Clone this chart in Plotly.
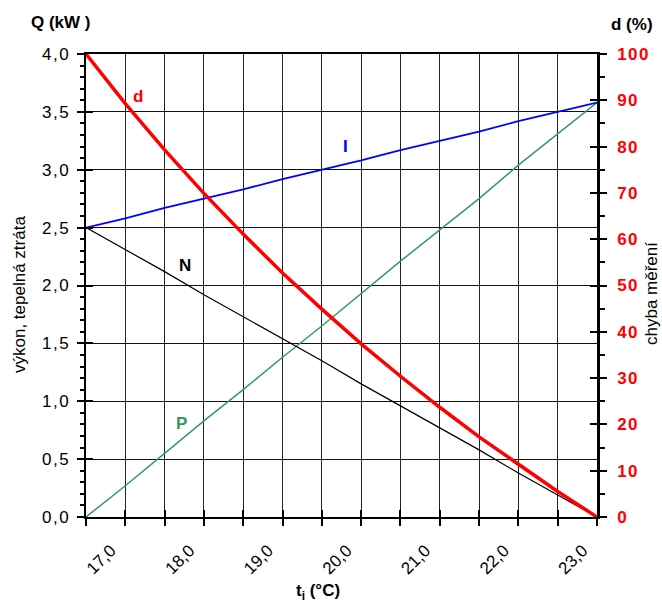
import plotly.graph_objects as go

# ---- data ----
t_i = [17.0, 17.5, 18.0, 18.5, 19.0, 19.5, 20.0, 20.5, 21.0, 21.5, 22.0, 22.5, 23.0, 23.5]
I_vals = [2.50, 2.58, 2.67, 2.75, 2.83, 2.92, 3.00, 3.08, 3.17, 3.25, 3.33, 3.42, 3.50, 3.58]
N_vals = [2.50, 2.31, 2.12, 1.92, 1.73, 1.54, 1.35, 1.15, 0.96, 0.77, 0.58, 0.38, 0.19, 0.00]
P_vals = [0.00, 0.27, 0.55, 0.83, 1.10, 1.38, 1.65, 1.93, 2.21, 2.48, 2.75, 3.04, 3.31, 3.58]
d_vals = [100.0, 89.3, 79.3, 69.9, 61.1, 52.7, 44.9, 37.4, 30.4, 23.7, 17.3, 11.3, 5.5, 0.0]

x_tick_labels = ["17,0", "", "18,0", "", "19,0", "", "20,0", "", "21,0", "", "22,0", "", "23,0", ""]
q_ticks = [0.0, 0.5, 1.0, 1.5, 2.0, 2.5, 3.0, 3.5, 4.0]
q_tick_labels = ["0,0", "0,5", "1,0", "1,5", "2,0", "2,5", "3,0", "3,5", "4,0"]
d_ticks = [0, 10, 20, 30, 40, 50, 60, 70, 80, 90, 100]
d_tick_labels = ["0", "10", "20", "30", "40", "50", "60", "70", "80", "90", "100"]

series_labels = [
    # text, x, y, color
    ("d", 17.66, 3.63, "#FF0000"),
    ("I", 20.30, 3.20, "#0000FF"),
    ("N", 18.26, 2.17, "#000000"),
    ("P", 18.21, 0.81, "#339966"),
]

FONT = "Liberation Sans, Arial, sans-serif"
HS = "\u200a"

def spaced(s):
    return HS.join(list(s))

fig = go.Figure()

fig.add_trace(go.Scatter(x=t_i, y=P_vals, mode="lines", line=dict(color="#339966", width=1.5),
                         showlegend=False, hoverinfo="skip"))
fig.add_trace(go.Scatter(x=t_i, y=N_vals, mode="lines", line=dict(color="#000000", width=1.2),
                         showlegend=False, hoverinfo="skip"))
fig.add_trace(go.Scatter(x=t_i, y=I_vals, mode="lines", line=dict(color="#0000FF", width=1.8),
                         showlegend=False, hoverinfo="skip"))
fig.add_trace(go.Scatter(x=t_i, y=d_vals, mode="lines", line=dict(color="#FF0000", width=3.5),
                         yaxis="y2", showlegend=False, hoverinfo="skip"))

# invisible helper traces for the inner halves of crossing ticks
fig.add_trace(go.Scatter(x=t_i[:1], y=q_ticks[:1], mode="lines", line=dict(width=0),
                         xaxis="x3", yaxis="y3", showlegend=False, hoverinfo="skip"))
fig.add_trace(go.Scatter(x=t_i[:1], y=d_ticks[:1], mode="lines", line=dict(width=0),
                         xaxis="x3", yaxis="y4", showlegend=False, hoverinfo="skip"))

L, R, T, B = 86, 65, 54, 88
W, H = 662, 605
pw = W - L - R
ph = H - T - B

def px_x(px):
    return (px - L) / pw

def px_y(py):
    return (H - B - py) / ph

fig.update_layout(
    width=W, height=H,
    margin=dict(l=L, r=R, t=T, b=B),
    paper_bgcolor="white", plot_bgcolor="white",
    font=dict(family=FONT, size=17, color="black"),
    xaxis=dict(
        range=[17, 23.5], tickmode="array", tickvals=t_i,
        ticktext=x_tick_labels,
        tickangle=-45, ticks="outside", ticklen=7, tickcolor="black", tickwidth=1.5,
        showgrid=True, gridcolor="#222222", gridwidth=1,
        showline=True, linecolor="black", linewidth=2, mirror=True,
        zeroline=False, ticklabelshift=25, ticklabelstandoff=8,
        tickfont=dict(size=17),
    ),
    xaxis3=dict(
        range=[17, 23.5], overlaying="x", anchor="y", tickmode="array", tickvals=t_i,
        ticks="inside", ticklen=7, tickcolor="black", tickwidth=1.5,
        showticklabels=False, showgrid=False, showline=False, zeroline=False,
    ),
    yaxis=dict(
        range=[0, 4], tickmode="array", tickvals=q_ticks,
        ticktext=[spaced(s) for s in q_tick_labels],
        ticks="outside", ticklen=7, tickcolor="black", tickwidth=1.5,
        minor=dict(dtick=0.1, ticks="outside", ticklen=4, tickcolor="black", tickwidth=1.5, showgrid=False),
        showgrid=True, gridcolor="#111111", gridwidth=1,
        showline=True, linecolor="black", linewidth=2,
        zeroline=False, tickfont=dict(size=17), ticklabelstandoff=5,
    ),
    yaxis3=dict(
        range=[0, 4], overlaying="y", side="left", anchor="x", tickmode="array", tickvals=q_ticks,
        ticks="inside", ticklen=7, tickcolor="black", tickwidth=1.5,
        showticklabels=False, showgrid=False, showline=False, zeroline=False,
    ),
    yaxis2=dict(
        range=[0, 100], overlaying="y", side="right", anchor="x", tickmode="array", tickvals=d_ticks,
        ticktext=[spaced(s) for s in d_tick_labels],
        ticks="outside", ticklen=7, tickcolor="black", tickwidth=1.5,
        minor=dict(dtick=5, ticks="outside", ticklen=5, tickcolor="black", tickwidth=1.5, showgrid=False),
        showgrid=False, showline=True, linecolor="black", linewidth=2.5,
        zeroline=False, tickfont=dict(size=17, color="#FF0000", weight="bold"), ticklabelstandoff=7,
    ),
    yaxis4=dict(
        range=[0, 100], overlaying="y", side="right", anchor="x", tickmode="array", tickvals=d_ticks,
        ticks="inside", ticklen=7, tickcolor="black", tickwidth=1.5,
        showticklabels=False, showgrid=False, showline=False, zeroline=False,
    ),
    separators=", ",
)

annotations = []
for txt, x, y, col in series_labels:
    annotations.append(dict(text=f"<b>{txt}</b>", x=x, y=y, xref="x", yref="y", showarrow=False,
                            font=dict(size=17, color=col, family=FONT), xanchor="center", yanchor="middle"))

annotations += [
    dict(text="<b>Q (kW )</b>", x=px_x(61), y=px_y(22), xref="paper", yref="paper", showarrow=False,
         font=dict(size=17), xanchor="center", yanchor="middle"),
    dict(text="<b>d (%)</b>", x=px_x(632), y=px_y(24), xref="paper", yref="paper", showarrow=False,
         font=dict(size=17), xanchor="center", yanchor="middle"),
    dict(text="výkon, tepelná ztráta", x=px_x(19), y=px_y(295), xref="paper", yref="paper",
         showarrow=False, textangle=-90, font=dict(size=17), xanchor="center", yanchor="middle"),
    dict(text="chyba měření", x=px_x(651), y=px_y(294), xref="paper", yref="paper",
         showarrow=False, textangle=-90, font=dict(size=17), xanchor="center", yanchor="middle"),
    dict(text="<b>t<sub>i</sub> (°C)</b>", x=px_x(318), y=px_y(592), xref="paper", yref="paper",
         showarrow=False, font=dict(size=17), xanchor="center", yanchor="middle"),
]
fig.update_layout(annotations=annotations)

fig.write_html("out.html")
